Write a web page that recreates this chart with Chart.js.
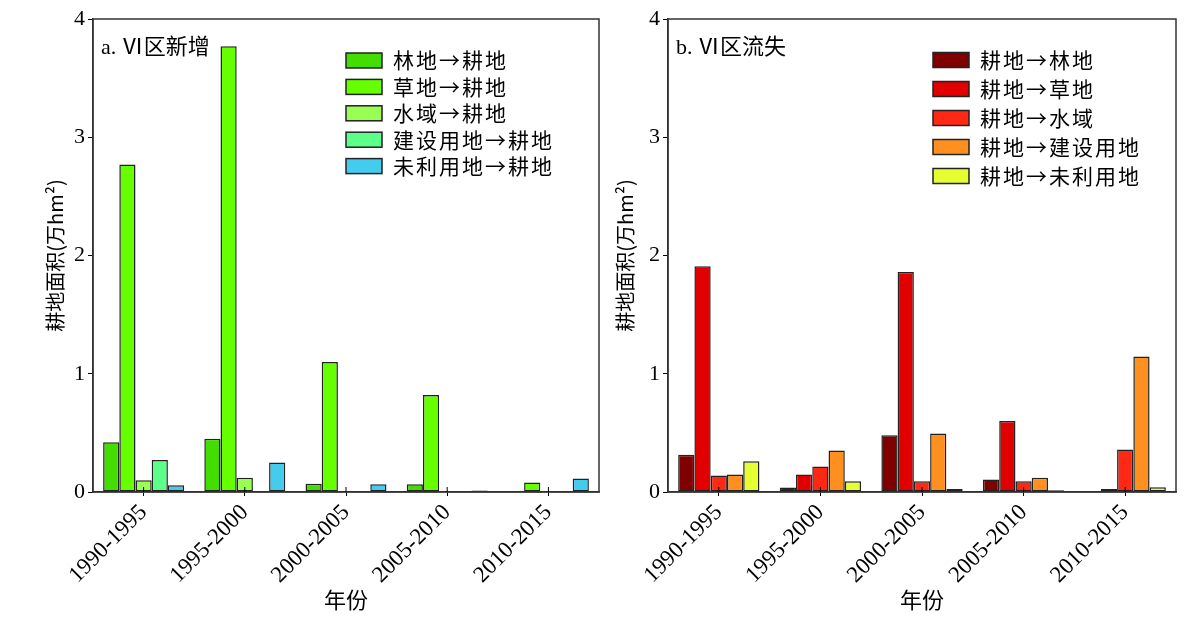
<!DOCTYPE html>
<html lang="zh-CN">
  <head>
    <meta charset="UTF-8" />
    <title>VI区耕地新增与流失</title>
    <script src="https://cdn.jsdelivr.net/npm/chart.js"></script>
    <style>
      html, body { margin: 0; padding: 0; background: #fff; }
      body { width: 1189px; height: 621px; position: relative; overflow: hidden; }
      .painel { position: absolute; top: 0; height: 621px; }
      #painelA { left: 0; width: 605px; }
      #painelB { left: 605px; width: 584px; }
    </style>
  </head>
  <body>
    <div class="painel" id="painelA"><canvas id="graficoNovo"></canvas></div>
    <div class="painel" id="painelB"><canvas id="graficoPerda"></canvas></div>
  </body>
</html>

<script>
  // dados (万hm²)
  const periodos = ["1990-1995", "1995-2000", "2000-2005", "2005-2010", "2010-2015"];
  const ticksY = [0, 1, 2, 3, 4];

  const nomesNovo = ["林地→耕地", "草地→耕地", "水域→耕地", "建设用地→耕地", "未利用地→耕地"];
  const linToGeng = [0.42, 0.45, 0.07, 0.065, 0.003];
  const caoToGeng = [2.77, 3.77, 1.1, 0.82, 0.08];
  const shuiToGeng = [0.1, 0.12, 0, 0, 0.005];
  const jianToGeng = [0.27, 0, 0.005, 0.005, 0];
  const weiToGeng = [0.057, 0.25, 0.065, 0.012, 0.115];

  const nomesPerda = ["耕地→林地", "耕地→草地", "耕地→水域", "耕地→建设用地", "耕地→未利用地"];
  const gengToLin = [0.315, 0.037, 0.48, 0.105, 0.003];
  const gengToCao = [1.91, 0.147, 1.86, 0.6, 0.025];
  const gengToShui = [0.14, 0.215, 0.09, 0.09, 0.36];
  const gengToJian = [0.147, 0.35, 0.495, 0.12, 1.145];
  const gengToWei = [0.26, 0.09, 0.025, 0.015, 0.04];

  const coresNovo = ["#44DD00", "#66FF00", "#99FF55", "#5CFF88", "#44CCEE"];
  const coresPerda = ["#800000", "#E00000", "#FF2815", "#FF9020", "#E5FF30"];

  const fonteSerif = "'Liberation Serif', 'Noto Sans CJK SC'";
  const fonteCJK = "'Noto Sans CJK SC', 'Liberation Serif'";

  // moldura, rótulo do painel e legenda desenhados dentro da área do gráfico
  const pluginMoldura = {
    id: "moldura",
    afterDraw(chart, args, opts) {
      const ctx = chart.ctx;
      const area = chart.chartArea;
      const escalaX = chart.scales.x;
      ctx.save();
      ctx.strokeStyle = "#333";
      ctx.lineWidth = 1.5;
      ctx.strokeRect(area.left, area.top, area.right - area.left, area.bottom - area.top);

      // tracinhos internos no eixo x
      ctx.strokeStyle = "#000";
      ctx.lineWidth = 1;
      escalaX.ticks.forEach((t, i) => {
        const x = escalaX.getPixelForTick(i);
        ctx.beginPath();
        ctx.moveTo(x, area.bottom);
        ctx.lineTo(x, area.bottom - 5);
        ctx.stroke();
      });

      ctx.fillStyle = "#000";
      ctx.textBaseline = "middle";
      ctx.textAlign = "left";
      ctx.font = "22px " + fonteSerif;
      ctx.fillText(opts.rotulo, area.left + 8, 48);

      ctx.font = "21px " + fonteCJK;
      ctx.letterSpacing = "2px";
      chart.data.datasets.forEach((ds, i) => {
        const y = opts.legY + i * opts.legPasso;
        ctx.fillStyle = ds.backgroundColor;
        ctx.fillRect(opts.legX, y - 7.5, 36, 15);
        ctx.strokeStyle = "#222";
        ctx.lineWidth = 1.5;
        ctx.strokeRect(opts.legX, y - 7.5, 36, 15);
        ctx.fillStyle = "#000";
        ctx.fillText(ds.label, opts.legX + 47, y);
      });
      ctx.restore();
    },
  };

  function montarGrafico(idCanvas, nomes, series, cores, larguraY, tituloPad, moldura) {
    const data = {
      labels: periodos,
      datasets: series.map((valores, i) => ({
        label: nomes[i],
        data: valores,
        backgroundColor: cores[i],
        borderColor: "#222",
        borderWidth: 1.5,
        borderSkipped: false,
        barPercentage: 1.0,
        categoryPercentage: 0.8,
      })),
    };

    const config = {
      type: "bar",
      data: data,
      options: {
        responsive: true,
        maintainAspectRatio: false,
        animation: false,
        layout: { padding: { top: 19, right: moldura.padDir, bottom: 0, left: 0 } },
        scales: {
          x: {
            grid: { display: true, offset: false, drawOnChartArea: false, tickLength: 4, color: "#000" },
            border: { display: true, color: "#333", width: 1.5 },
            ticks: {
              color: "#000",
              minRotation: 45,
              maxRotation: 45,
              padding: 3,
              font: { family: fonteSerif, size: 23 },
            },
            title: {
              display: true,
              text: "年份",
              color: "#000",
              font: { family: fonteCJK, size: 22 },
              padding: { top: 0, bottom: 8 },
            },
            afterFit(scale) {
              scale.height = 129;
            },
          },
          y: {
            min: 0,
            max: 4,
            afterBuildTicks(scale) {
              scale.ticks = ticksY.map((v) => ({ value: v }));
            },
            grid: { drawOnChartArea: false, tickLength: 5, color: "#000" },
            border: { display: true, color: "#333", width: 1.5 },
            ticks: {
              color: "#000",
              padding: 3,
              font: { family: fonteSerif, size: 22 },
            },
            title: {
              display: true,
              text: "耕地面积(万hm²)",
              color: "#000",
              font: { family: fonteCJK, size: 20 },
              padding: { top: tituloPad, bottom: 0 },
            },
            afterFit(scale) {
              scale.width = larguraY;
            },
          },
        },
        plugins: {
          legend: { display: false },
          tooltip: { enabled: false },
          moldura: moldura,
        },
      },
      plugins: [pluginMoldura],
    };

    return new Chart(document.getElementById(idCanvas), config);
  }

  montarGrafico(
    "graficoNovo",
    nomesNovo,
    [linToGeng, caoToGeng, shuiToGeng, jianToGeng, weiToGeng],
    coresNovo,
    93,
    43,
    { rotulo: "a. Ⅵ区新增", legX: 346, legY: 60.5, legPasso: 26.4, padDir: 6 }
  );

  montarGrafico(
    "graficoPerda",
    nomesPerda,
    [gengToLin, gengToCao, gengToShui, gengToJian, gengToWei],
    coresPerda,
    63,
    8,
    { rotulo: "b. Ⅵ区流失", legX: 328, legY: 60, legPasso: 29, padDir: 13 }
  );
</script>
